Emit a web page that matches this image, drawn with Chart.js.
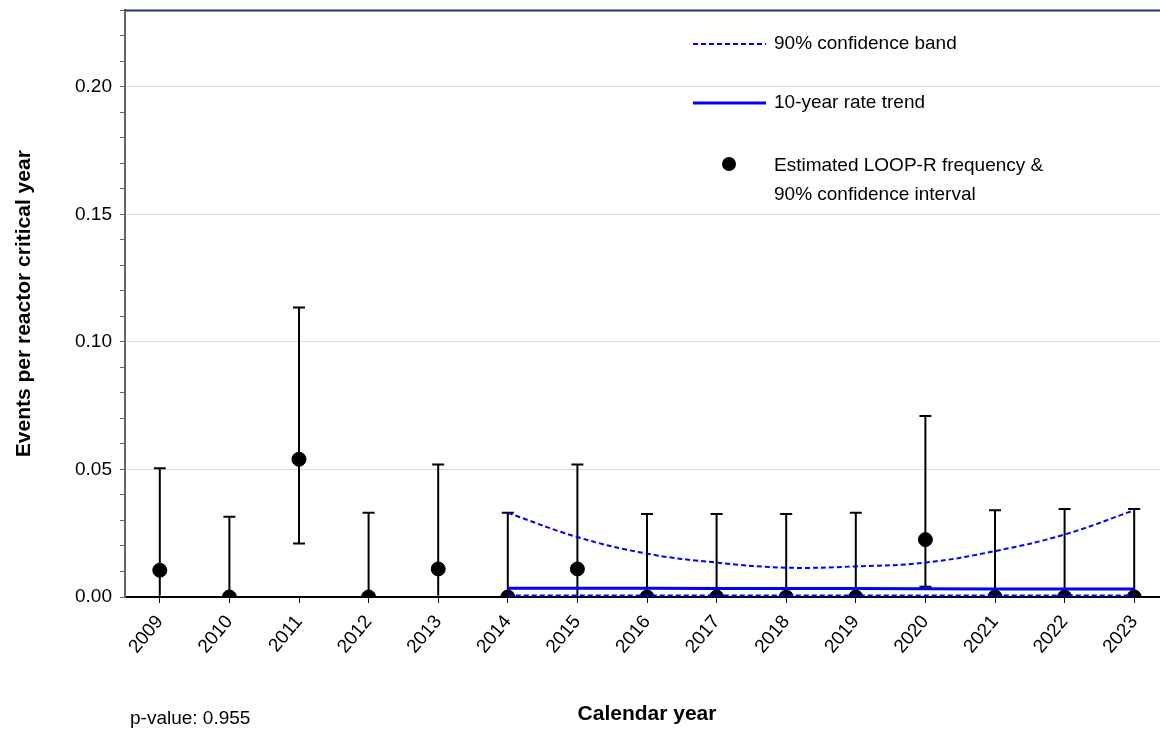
<!DOCTYPE html>
<html><head><meta charset="utf-8">
<script src="https://cdn.jsdelivr.net/npm/chart.js@4"></script>
<style>html,body{margin:0;background:#fff;overflow:hidden}#w{width:1177px;height:740px;margin-top:-9px}</style>
</head><body><div id="w"><canvas id="c"></canvas></div>
<script>
const years = ['2009','2010','2011','2012','2013','2014','2015','2016','2017','2018','2019','2020','2021','2022','2023'];
const freq  = [0.0105,0,0.054,0,0.011,0,0.011,0,0,0,0,0.0225,0,0,0];
const upper = [0.0505,0.0315,0.1135,0.033,0.052,0.033,0.052,0.0325,0.0325,0.0325,0.033,0.071,0.034,0.0345,0.0345];
const lower = [0.0005,0,0.021,0,0.0005,0,0.0005,0,0,0,0,0.004,0,0,0];
const bandHi = [null,null,null,null,null,0.033,0.0235,0.017,0.0135,0.0115,0.012,0.0135,0.018,0.0245,0.034];
const bandLo = [null,null,null,null,null,0.0006,0.0006,0.0006,0.0006,0.0006,0.0006,0.0006,0.0006,0.0006,0.0006];
const trend  = [null,null,null,null,null,0.0034,0.0034,0.0034,0.0033,0.0033,0.0033,0.0032,0.0031,0.0031,0.0031];

const font = 'Liberation Sans, Arial, sans-serif';
const dy = 9;

const extras = {
  id: 'extras',
  beforeDatasetsDraw(chart) {
    const {ctx, scales: {x, y}} = chart;
    ctx.save();
    ctx.strokeStyle = '#000'; ctx.lineWidth = 2;
    years.forEach((yr, i) => {
      const px = x.getPixelForValue(i);
      const t = y.getPixelForValue(upper[i]), b = y.getPixelForValue(lower[i]);
      ctx.beginPath(); ctx.moveTo(px, b); ctx.lineTo(px, t);
      ctx.moveTo(px - 6, t); ctx.lineTo(px + 6, t);
      if (lower[i] > 0.001) { ctx.moveTo(px - 6, b); ctx.lineTo(px + 6, b); }
      ctx.stroke();
    });
    ctx.restore();
  },
  afterDraw(chart) {
    const {ctx, chartArea: a} = chart;
    ctx.save();
    ctx.strokeStyle = '#1f3864'; ctx.lineWidth = 2;
    ctx.beginPath(); ctx.moveTo(a.left, a.top); ctx.lineTo(a.right, a.top); ctx.stroke();
    ctx.font = '19px ' + font; ctx.fillStyle = '#000'; ctx.textBaseline = 'middle';
    ctx.strokeStyle = '#0000ff';
    ctx.setLineDash([5, 3]); ctx.lineWidth = 2;
    ctx.beginPath(); ctx.moveTo(693, 44 + dy); ctx.lineTo(766, 44 + dy); ctx.stroke();
    ctx.setLineDash([]); ctx.lineWidth = 3;
    ctx.beginPath(); ctx.moveTo(693, 103 + dy); ctx.lineTo(766, 103 + dy); ctx.stroke();
    ctx.fillStyle = '#000';
    ctx.beginPath(); ctx.arc(729, 164 + dy, 7, 0, Math.PI * 2); ctx.fill();
    ctx.fillText('90% confidence band', 774, 44 + dy);
    ctx.fillText('10-year rate trend', 774, 103 + dy);
    ctx.fillText('Estimated LOOP-R frequency &', 774, 166 + dy);
    ctx.fillText('90% confidence interval', 774, 195 + dy);
    ctx.fillText('p-value: 0.955', 130, 719 + dy);
    ctx.restore();
  }
};

new Chart(document.getElementById('c'), {
  type: 'line',
  data: {
    labels: years,
    datasets: [
      { data: bandHi, borderColor: '#0000ff', borderWidth: 2, borderDash: [5, 3], pointRadius: 0, tension: 0.4, fill: false },
      { data: bandLo, borderColor: '#0000ff', borderWidth: 2, borderDash: [5, 3], pointRadius: 0, fill: false },
      { data: trend, borderColor: '#0000ff', borderWidth: 3, pointRadius: 0, fill: false },
      { data: freq, showLine: false, pointRadius: 7, pointBackgroundColor: '#000', pointBorderColor: '#000' }
    ]
  },
  options: {
    responsive: true, maintainAspectRatio: false, animation: false,
    layout: { padding: { top: 0, right: 0, left: 8, bottom: 0 } },
    plugins: { legend: { display: false }, tooltip: { enabled: false } },
    scales: {
      x: {
        offset: true,
        grid: { drawOnChartArea: false, offset: false, color: '#000', tickLength: 6 },
        border: { color: '#000', width: 2 },
        ticks: { color: '#000', font: { family: font, size: 19 }, maxRotation: 50, minRotation: 50, autoSkip: false, padding: 8 },
        title: { display: true, text: 'Calendar year', color: '#000', font: { family: font, size: 21, weight: 'bold' }, padding: { top: 14 } },
        afterFit(s) { s.height = 134; }
      },
      y: {
        min: 0, max: 0.23,
        border: { color: '#666', width: 2 },
        grid: {
          color: c => (Math.round(c.tick.value * 100) % 5 === 0 && c.tick.value > 0) ? '#dedbcc' : 'rgba(0,0,0,0)',
          tickColor: '#666', tickLength: 5
        },
        ticks: {
          stepSize: 0.01, color: '#000', font: { family: font, size: 19 }, autoSkip: false, padding: 8,
          callback: v => Math.round(v * 100) % 5 === 0 ? v.toFixed(2) : ''
        },
        title: { display: true, text: 'Events per reactor critical year', color: '#000', font: { family: font, size: 21, weight: 'bold' } },
        afterFit(s) { s.width = 117; }
      }
    }
  },
  plugins: [extras]
});
</script></body></html>
